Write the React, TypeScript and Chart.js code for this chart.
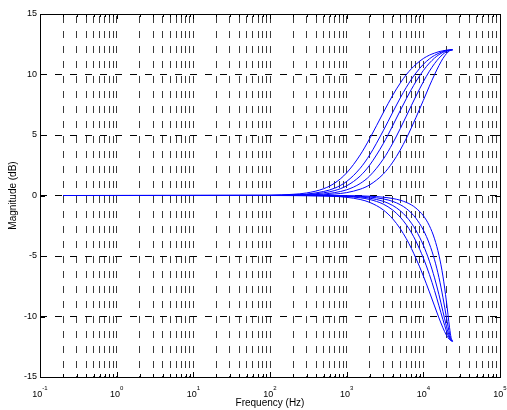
import React, { useEffect, useRef } from "react";
import { Chart, registerables } from "chart.js";

Chart.register(...registerables);

// Frequency points (Hz) shared by all curves
const freqHz = [0.2, 100, 200, 300, 500, 700, 1000, 1500, 2000, 3000, 4000, 5000, 6000, 7000, 8000, 10000, 12000, 14000, 16000, 18000, 20000, 22000, 23000, 24000];

// Boost curves (dB)
const boost1 = [0, 0.02, 0.1, 0.21, 0.56, 1.03, 1.87, 3.35, 4.71, 6.84, 8.3, 9.29, 9.99, 10.48, 10.84, 11.32, 11.6, 11.77, 11.89, 11.96, 12.01, 12.03, 12.04, 12.04];
const boost2 = [0, 0.01, 0.05, 0.12, 0.33, 0.61, 1.16, 2.25, 3.36, 5.35, 6.89, 8.06, 8.94, 9.61, 10.12, 10.84, 11.29, 11.58, 11.77, 11.9, 11.98, 12.03, 12.04, 12.04];
const boost3 = [0, 0.01, 0.04, 0.08, 0.22, 0.41, 0.8, 1.61, 2.52, 4.28, 5.79, 7.02, 8.0, 8.78, 9.41, 10.33, 10.94, 11.36, 11.64, 11.83, 11.95, 12.02, 12.04, 12.04];
const boost4 = [0, 0.01, 0.02, 0.05, 0.12, 0.24, 0.47, 0.99, 1.62, 3.0, 4.33, 5.53, 6.56, 7.45, 8.2, 9.4, 10.27, 10.9, 11.35, 11.67, 11.88, 12.0, 12.03, 12.04];
const boost5 = [0, 0, 0.01, 0.02, 0.06, 0.12, 0.24, 0.52, 0.88, 1.77, 2.76, 3.76, 4.72, 5.61, 6.43, 7.86, 9.04, 9.99, 10.74, 11.32, 11.72, 11.96, 12.02, 12.04];

// Cut curves (dB)
const cut1 = [0, 0, -0.01, -0.01, -0.04, -0.07, -0.15, -0.33, -0.57, -1.19, -1.94, -2.75, -3.57, -4.39, -5.18, -6.65, -7.97, -9.13, -10.12, -10.93, -11.54, -11.91, -12.01, -12.04];
const cut2 = [0, 0, 0, -0.01, -0.02, -0.04, -0.08, -0.19, -0.33, -0.71, -1.21, -1.79, -2.42, -3.08, -3.77, -5.16, -6.53, -7.86, -9.12, -10.25, -11.19, -11.82, -11.98, -12.04];
const cut3 = [0, 0, 0, -0.01, -0.01, -0.03, -0.06, -0.12, -0.22, -0.48, -0.83, -1.26, -1.75, -2.29, -2.87, -4.11, -5.43, -6.81, -8.2, -9.57, -10.8, -11.7, -11.95, -12.04];
const cut4 = [0, 0, 0, 0, -0.01, -0.02, -0.03, -0.07, -0.13, -0.28, -0.49, -0.76, -1.08, -1.46, -1.88, -2.85, -4.0, -5.31, -6.79, -8.41, -10.06, -11.46, -11.89, -12.04];
const cut5 = [0, 0, 0, 0, 0, -0.01, -0.02, -0.03, -0.06, -0.14, -0.25, -0.39, -0.57, -0.78, -1.04, -1.67, -2.5, -3.58, -4.94, -6.66, -8.75, -10.93, -11.73, -12.04];

const seriesList = [boost1, boost2, boost3, boost4, boost5, cut1, cut2, cut3, cut4, cut5];

// Axis ticks / labels
const yTicks = [-15, -10, -5, 0, 5, 10, 15];
const xDecadeExponents = ["-1", "0", "1", "2", "3", "4", "5"];
const xMantissas = [1, 2, 3, 4, 5, 6, 7, 8, 9];
const xTitle = "Frequency (Hz)";
const yTitle = "Magnitude (dB)";

const FONT = '"Liberation Sans", Arial, Helvetica, sans-serif';
const LINE_COLOR = "#0000ff";

function buildXGridValues(): number[] {
  const out: number[] = [];
  for (let k = -1; k <= 4; k++) {
    for (const m of xMantissas) out.push(m * Math.pow(10, k));
  }
  out.push(1e5);
  return out;
}

const framePlugin = {
  id: "matlabFrame",
  afterDraw(chart: any) {
    const { ctx, chartArea: a, scales } = chart;
    const xs = scales.x;
    const ys = scales.y;
    ctx.save();
    ctx.strokeStyle = "#000";
    ctx.lineWidth = 1;
    ctx.setLineDash([]);
    ctx.beginPath();
    for (const v of yTicks) {
      const y = Math.round(ys.getPixelForValue(v)) + 0.5;
      ctx.moveTo(a.left, y);
      ctx.lineTo(a.left + 5, y);
      ctx.moveTo(a.right, y);
      ctx.lineTo(a.right - 5, y);
    }
    for (const t of xs.ticks) {
      const x = Math.round(xs.getPixelForValue(t.value)) + 0.5;
      const lg = Math.log10(t.value);
      const major = Math.abs(lg - Math.round(lg)) < 1e-6;
      const len = major ? 5 : 3;
      ctx.moveTo(x, a.bottom);
      ctx.lineTo(x, a.bottom - len);
      ctx.moveTo(x, a.top);
      ctx.lineTo(x, a.top + len);
    }
    ctx.stroke();
    ctx.strokeRect(
      Math.round(a.left) + 0.5,
      Math.round(a.top) + 0.5,
      Math.round(a.right) - Math.round(a.left),
      Math.round(a.bottom) - Math.round(a.top)
    );

    ctx.fillStyle = "#000";
    ctx.font = `9px ${FONT}`;
    ctx.textAlign = "right";
    ctx.textBaseline = "middle";
    for (const v of yTicks) {
      ctx.fillText(String(v), a.left - 3, ys.getPixelForValue(v));
    }
    ctx.textAlign = "left";
    ctx.textBaseline = "alphabetic";
    for (const e of xDecadeExponents) {
      const x = xs.getPixelForValue(Math.pow(10, Number(e)));
      ctx.font = `9px ${FONT}`;
      const wb = ctx.measureText("10").width;
      ctx.font = `6px ${FONT}`;
      const we = ctx.measureText(e).width;
      const start = x - (wb + we) / 2;
      ctx.font = `9px ${FONT}`;
      ctx.fillText("10", start, a.bottom + 20);
      ctx.font = `6px ${FONT}`;
      ctx.fillText(e, start + wb, a.bottom + 13);
    }
    ctx.font = `10px ${FONT}`;
    ctx.textAlign = "center";
    ctx.fillText(xTitle, (a.left + a.right) / 2, a.bottom + 29);
    ctx.translate(16, (a.top + a.bottom) / 2);
    ctx.rotate(-Math.PI / 2);
    ctx.fillText(yTitle, 0, 0);
    ctx.restore();
  },
};

export default function App() {
  const canvasRef = useRef<HTMLCanvasElement | null>(null);

  useEffect(() => {
    const canvas = canvasRef.current;
    if (!canvas) return;
    const xGrid = buildXGridValues();
    const datasets = seriesList.map((arr, idx) => ({
      label: `curve ${idx + 1}`,
      data: freqHz.map((f, i) => ({ x: f, y: arr[i] })),
      borderColor: LINE_COLOR,
      backgroundColor: LINE_COLOR,
      borderWidth: 1,
      pointRadius: 0,
      fill: false,
      cubicInterpolationMode: "monotone" as const,
    }));
    const chart = new Chart(canvas, {
      type: "line",
      data: { datasets },
      options: {
        animation: false,
        responsive: false,
        devicePixelRatio: 1,
        layout: { padding: { left: 40, top: 14, right: 7, bottom: 33 } },
        plugins: {
          legend: { display: false },
          tooltip: { enabled: false },
          title: { display: false },
        },
        scales: {
          x: {
            type: "logarithmic",
            min: 0.1,
            max: 1e5,
            afterBuildTicks: (s: any) => {
              s.ticks = xGrid.map((v) => ({ value: v }));
            },
            ticks: { display: false, autoSkip: false },
            grid: { color: "#3a3a3a", lineWidth: 1, drawTicks: false },
            border: { display: false, dash: [7, 8], dashOffset: 13 },
          },
          y: {
            type: "linear",
            min: -15,
            max: 15,
            ticks: { display: false, stepSize: 5 },
            grid: { color: "#000", lineWidth: 1, drawTicks: false },
            border: { display: false, dash: [7, 8], dashOffset: 0 },
          },
        },
      },
      plugins: [framePlugin],
    });
    return () => chart.destroy();
  }, []);

  return (
    <div style={{ position: "fixed", left: 0, top: 0, width: 507, height: 410, background: "#fff" }}>
      <canvas ref={canvasRef} width={507} height={410} style={{ display: "block", width: 507, height: 410 }} />
    </div>
  );
}
